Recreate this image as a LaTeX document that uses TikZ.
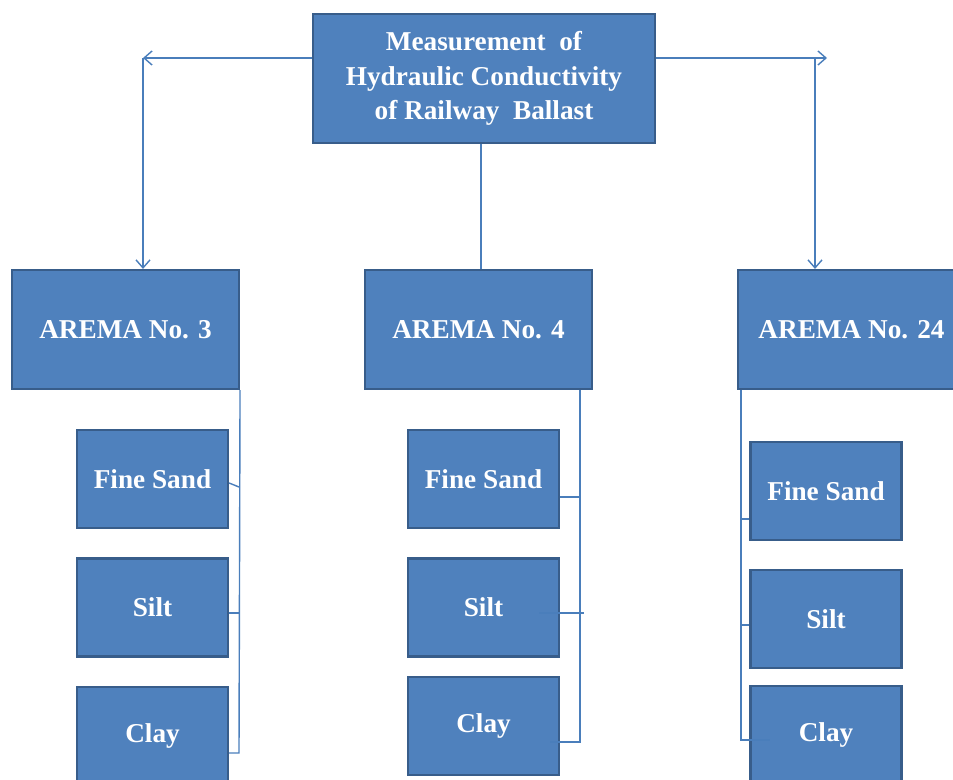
\documentclass[tikz,border=0pt]{standalone}
\usepackage{fontspec}
\setmainfont{Liberation Serif}
\usepackage{xcolor}
\usetikzlibrary{arrows.meta}
\definecolor{boxblue}{HTML}{4F81BD}
\definecolor{boxedge}{HTML}{385D8A}
\definecolor{linkblue}{HTML}{4A7EBB}

\begin{document}
\begin{tikzpicture}[x=0.02cm, y=-0.02cm, font=\fontsize{15.5}{19.5}\selectfont\bfseries]
\tikzset{box/.style={draw=boxedge, line width=1.2pt, fill=boxblue, text=white, align=center, inner sep=0pt},
  arema/.style={box, minimum width=4.54cm, minimum height=2.38cm},
  soil/.style={box, minimum width=3.02cm, minimum height=1.96cm},
  link/.style={draw=linkblue, line width=0.8pt},
  arrow/.style={link, -{Straight Barb[length=1.6mm, width=2.8mm]}}}
\useasboundingbox (0,0) rectangle (953,780);
\node[box, minimum width=6.84cm, minimum height=2.58cm] (measure) at (484,78.5) {Measurement\ \ of\\Hydraulic Conductivity\\of Railway\ \ Ballast};
\node[arema] (arema3) at (125.5,329.5) {AREMA No. 3};
\node[arema] (arema4) at (478.5,329.5) {AREMA No. 4};
\node[arema] (arema24) at (851.5,329.5) {AREMA No. 24};
\node[soil] (sand3) at (152.5,479) {Fine Sand};
\node[soil] (silt3) at (152.5,607.5) {Silt};
\node[soil] (clay3) at (152.5,736) {Clay};
\node[soil] (sand4) at (483.5,479) {Fine Sand};
\node[soil] (silt4) at (483.5,607.5) {Silt};
\node[soil] (clay4) at (483.5,726) {Clay};
\node[soil] (sand24) at (826,491) {Fine Sand};
\node[soil] (silt24) at (826,619) {Silt};
\node[soil] (clay24) at (826,735) {Clay};
% top level
\coordinate (left) at (143,58);
\coordinate (right) at (815,58);
\coordinate (rtip) at (827,58);
\coordinate (mid) at (481,200);
\draw[arrow] (measure.west |- left) -- (left);
\draw[arrow] (left) -- (arema3.north -| left);
\draw[arrow] (measure.east |- right) -- (rtip);
\draw[arrow] (right) -- (arema24.north -| right);
\draw[link] (measure.south -| mid) -- (arema4.north -| mid);
% AREMA No. 3 branch
\coordinate (t3a) at (239,487);
\coordinate (t3b) at (239,613);
\coordinate (t3c) at (239,753);
\draw[link] (arema3.south east) -- (t3c) -- (clay3.east |- t3c);
\draw[link] ([yshift=-0.08cm]sand3.east) -- (t3a);
\draw[link] (silt3.east |- t3b) -- (t3b);
% AREMA No. 4 branch
\coordinate (t4a) at (580,497);
\coordinate (t4b) at (580,613);
\coordinate (t4c) at (580,742);
\draw[link] (arema4.south -| t4c) -- (t4c) -- ++(-30,0);
\draw[link] (sand4.east |- t4a) -- (t4a);
\draw[link] ([xshift=-0.42cm]silt4.east |- t4b) -- ++(45,0);
% AREMA No. 24 branch
\coordinate (t24a) at (741,519);
\coordinate (t24b) at (741,625);
\coordinate (t24c) at (741,740);
\draw[link] (arema24.south -| t24c) -- (t24c) -- ++(29,0);
\draw[link] (t24a) -- (sand24.west |- t24a);
\draw[link] (t24b) -- (silt24.west |- t24b);
\end{tikzpicture}
\end{document}
